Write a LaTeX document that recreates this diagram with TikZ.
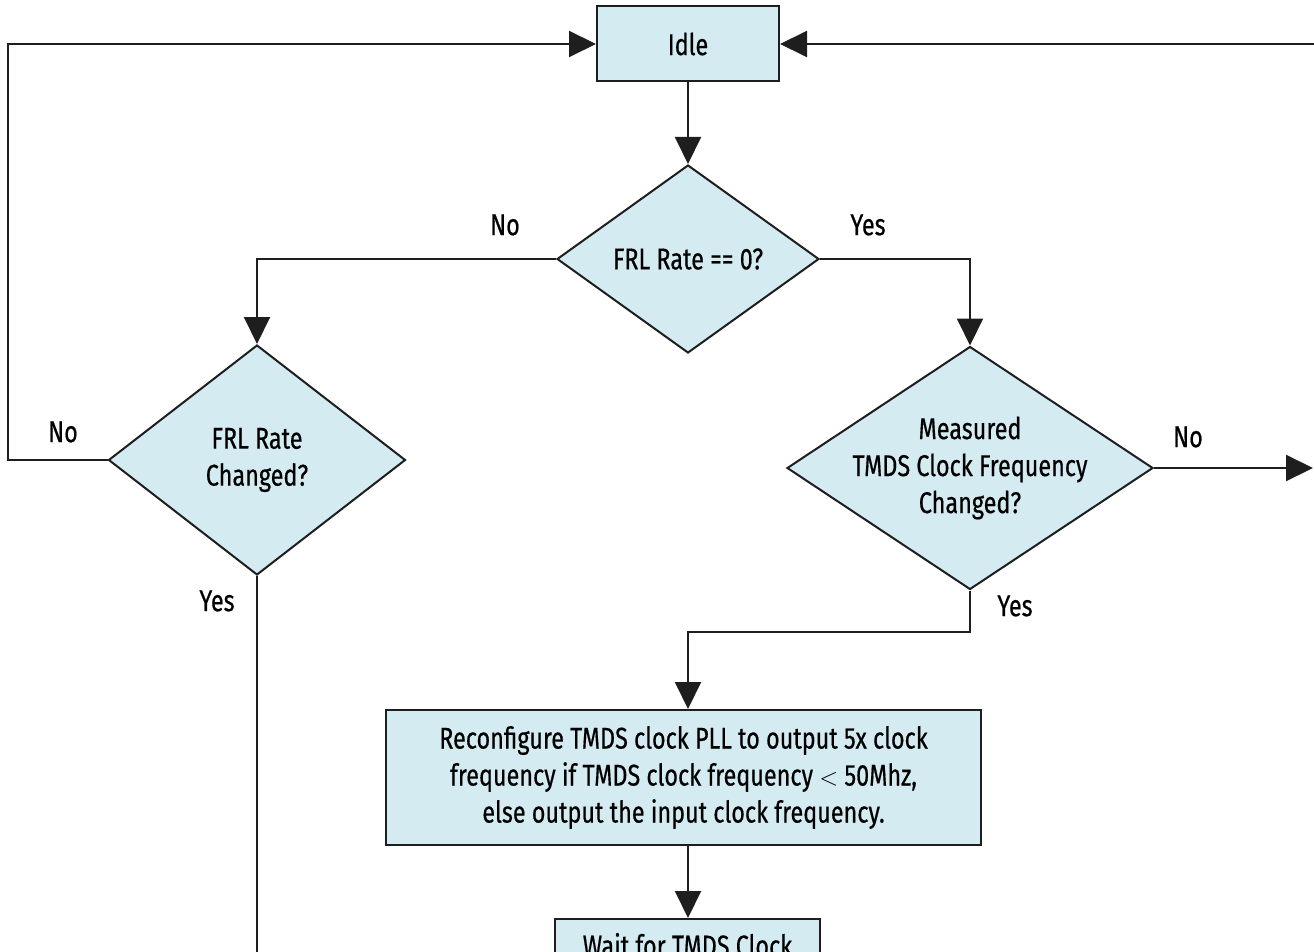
\documentclass[tikz,border=0pt]{standalone}
\usepackage{fontspec}
\setmainfont{Fira Sans}[FakeStretch=0.78, FakeBold=0.5]
\usetikzlibrary{shapes.geometric,arrows.meta}
\definecolor{boxfill}{HTML}{D4EBF2}
\definecolor{edge}{HTML}{1E1E1E}

\begin{document}
\begin{tikzpicture}[x=1pt,y=-1pt,
  txtfont/.style={font=\fontsize{30}{37}\selectfont},
  procbox/.style={draw=edge, fill=boxfill, line width=2pt, inner sep=0pt,
    align=center, txtfont},
  decision/.style={diamond, draw=edge, fill=boxfill, line width=2pt, inner sep=0pt},
  dtext/.style={align=center, txtfont},
  flow/.style={draw=edge, line width=2pt, -{Triangle[length=27pt,width=26pt]}},
  plain/.style={draw=edge, line width=2pt},
  lbl/.style={txtfont, inner sep=0pt}]

\useasboundingbox (0,0) rectangle (1314,952);
\clip (0,0) rectangle (1314,952);

% process boxes and decisions
\node[procbox, minimum width=182pt, minimum height=75pt] (idle) at (688,44) {Idle};

\node[decision, minimum width=262pt, minimum height=188pt] (rate0) at (688,259) {};
\node[dtext] at (rate0) {FRL Rate == 0?};

\node[decision, minimum width=297pt, minimum height=230pt] (changed) at (257,460) {};
\node[dtext] at (changed) {FRL Rate\\Changed?};

\node[decision, minimum width=366pt, minimum height=243pt] (tmds) at (970,468) {};
\node[dtext] at (tmds) {Measured\\TMDS Clock Frequency\\Changed?};

\node[procbox, minimum width=595pt, minimum height=135pt] (reconf) at (683.5,777.5)
  {Reconfigure TMDS clock PLL to output 5x clock\\
   frequency if TMDS clock frequency $<$ 50Mhz,\\
   else output the input clock frequency.};

\node[procbox, anchor=north, minimum width=265pt, inner ysep=14pt] (wait) at (687.5,918)
  {Wait for TMDS Clock};

% free ends and corners
\coordinate (backL) at (8,460);
\coordinate (downL) at (257,970);
\coordinate (exitR) at (1313,468);
\coordinate (backR) at (1314.5,520);
\coordinate (joint) at (970,632);

% connectors
\draw[flow] (idle) -- (rate0);
\draw[flow] (rate0.west) -| (changed.north);
\draw[flow] (rate0.east) -| (tmds.north);
\draw[flow] (changed.west) -- (backL) |- (idle.west);
\draw[plain] (changed.south) -- (downL);
\draw[flow] (tmds.east) -- (exitR);
\draw[flow] (backR) |- (idle.east);
\draw[flow] (tmds.south) -- (joint) -| (reconf.north -| idle.south);
\draw[flow] (reconf.south -| idle.south) -- (wait.north -| idle.south);

% branch labels
\node[lbl] at (505,225) {No};
\node[lbl] at (868,225) {Yes};
\node[lbl] at (63,432) {No};
\node[lbl] at (217,601) {Yes};
\node[lbl] at (1188,437) {No};
\node[lbl] at (1015,606) {Yes};
\end{tikzpicture}
\end{document}
